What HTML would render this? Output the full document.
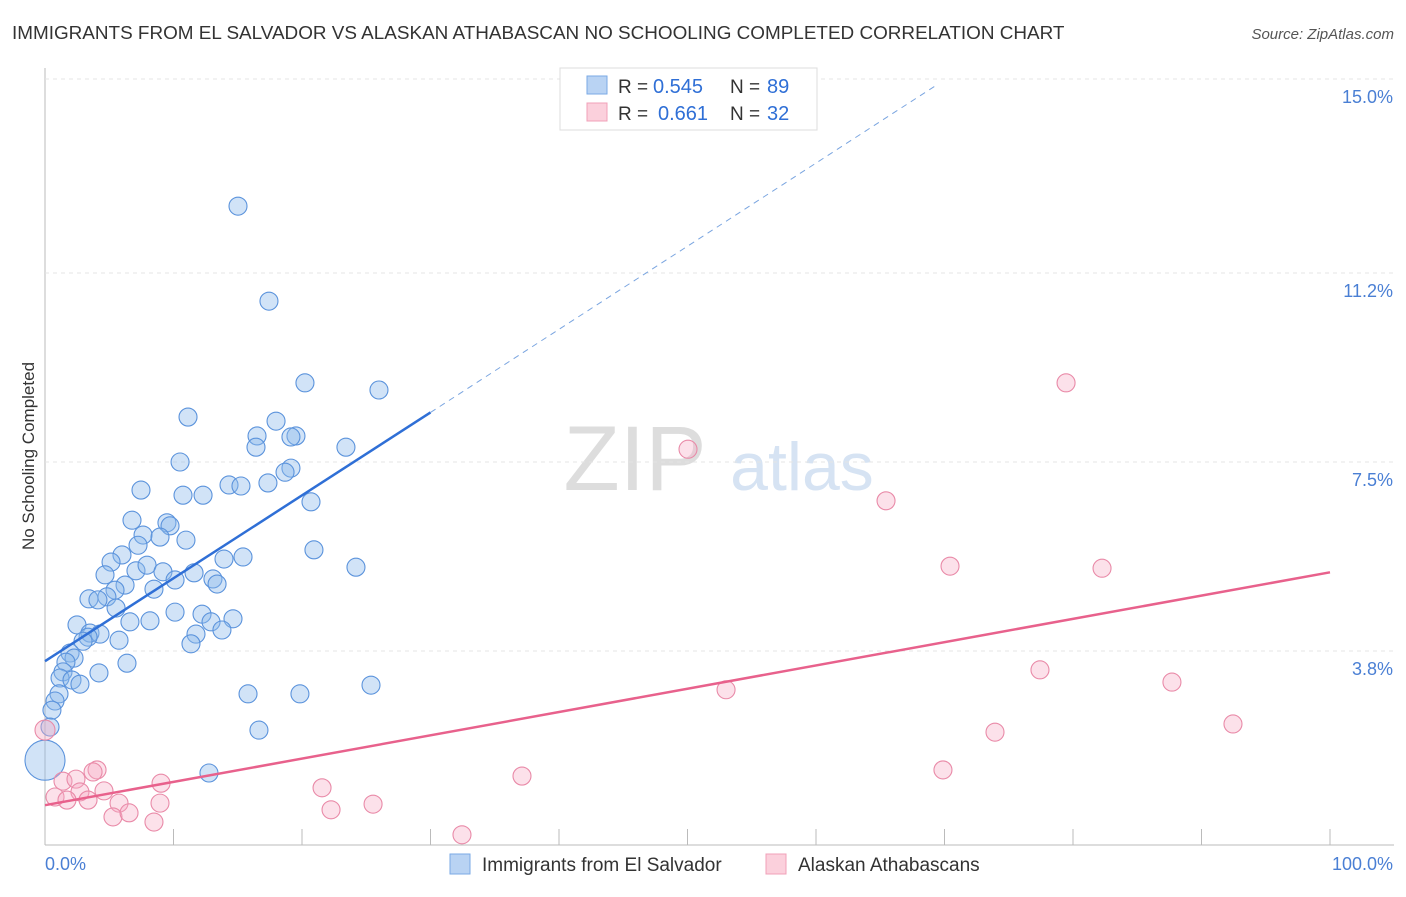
<!DOCTYPE html>
<html><head><meta charset="utf-8"><style>
body{margin:0;background:#fff;font-family:"Liberation Sans",sans-serif}
svg text{font-family:"Liberation Sans",sans-serif}
</style></head><body>
<svg id="chart" width="1406" height="892" xmlns="http://www.w3.org/2000/svg">
<text x="12" y="39" font-size="18.9" fill="#333">IMMIGRANTS FROM EL SALVADOR VS ALASKAN ATHABASCAN NO SCHOOLING COMPLETED CORRELATION CHART</text>
<text x="1394" y="39" font-size="15" fill="#555" text-anchor="end" font-style="italic">Source: ZipAtlas.com</text>
<text transform="translate(34,456) rotate(-90)" font-size="17" fill="#333" text-anchor="middle">No Schooling Completed</text>
<g><text x="635" y="490" font-size="92" fill="#ddd" text-anchor="middle" font-family="Liberation Serif">ZIP</text><text x="802" y="490" font-size="68" fill="#d6e3f3" text-anchor="middle">atlas</text></g>
<g id="grid"></g><g id="marks"></g>
<g>
<rect x="560" y="68" width="257" height="62" fill="#fff" stroke="#ddd"/>
<rect x="587" y="76" width="20" height="18" fill="#b9d3f3" stroke="#7aa9e6"/>
<text x="618" y="93" font-size="19" fill="#333">R =</text><text x="653" y="93" font-size="20" fill="#2f6fd6">0.545</text>
<text x="730" y="93" font-size="19" fill="#333">N =</text><text x="767" y="93" font-size="20" fill="#2f6fd6">89</text>
<rect x="587" y="103" width="20" height="18" fill="#fbd0dc" stroke="#f0a0b8"/>
<text x="618" y="120" font-size="19" fill="#333">R =</text><text x="658" y="120" font-size="20" fill="#2f6fd6">0.661</text>
<text x="730" y="120" font-size="19" fill="#333">N =</text><text x="767" y="120" font-size="20" fill="#2f6fd6">32</text>
</g>
<g>
<rect x="450" y="854" width="20" height="20" fill="#b9d3f3" stroke="#7aa9e6"/>
<text x="482" y="871" font-size="19" fill="#333">Immigrants from El Salvador</text>
<rect x="766" y="854" width="20" height="20" fill="#fbd0dc" stroke="#f0a0b8"/>
<text x="798" y="871" font-size="19" fill="#333">Alaskan Athabascans</text>
</g>
<text x="45" y="870" font-size="18" fill="#4a7fd4">0.0%</text>
<text x="1393" y="870" font-size="18" fill="#4a7fd4" text-anchor="end">100.0%</text>
</svg>
<script>
const yTicks=[15.0,11.2,7.5,3.8];
const yTickLabels=["15.0%","11.2%","7.5%","3.8%"];
const xTicks=[0,10,20,30,40,50,60,70,80,90,100];
const bluePx=[[238,206],[269,301],[305,383],[379,390],[188,417],[276,421],[257,436],[296,436],[291,437],[346,447],[256,447],[180,462],[291,468],[285,472],[141,490],[229,485],[241,486],[268,483],[183,495],[203,495],[311,502],[132,520],[167,523],[170,526],[143,535],[160,537],[186,540],[138,545],[122,555],[111,562],[224,559],[243,557],[314,550],[356,567],[105,575],[136,571],[147,565],[163,572],[194,573],[175,580],[213,579],[125,585],[217,584],[154,589],[115,590],[107,597],[89,599],[98,600],[116,608],[175,612],[202,614],[233,619],[150,621],[130,622],[211,622],[77,625],[222,630],[196,634],[90,633],[100,634],[88,637],[191,644],[119,640],[83,641],[70,653],[74,658],[66,662],[127,663],[63,672],[99,673],[60,678],[72,680],[80,684],[59,694],[248,694],[300,694],[371,685],[55,701],[52,710],[50,727],[259,730],[209,773]];
const pinkPx=[[688,449],[1066,383],[886,501],[950,566],[1102,568],[1040,670],[1172,682],[726,690],[995,732],[1233,724],[943,770],[522,776],[63,781],[76,779],[97,770],[93,772],[161,783],[322,788],[55,797],[80,792],[104,791],[67,800],[88,800],[160,803],[119,803],[373,804],[331,810],[113,817],[129,813],[154,822],[462,835]];
const blueX=bluePx.map(p=>+((p[0]-45)/12.85).toFixed(2));
const blueY=bluePx.map(p=>+((845-p[1])*3.75/191.5).toFixed(2));
const pinkX=pinkPx.map(p=>+((p[0]-45)/12.85).toFixed(2));
const pinkY=pinkPx.map(p=>+((845-p[1])*3.75/191.5).toFixed(2));
const blueTrend=[[0,3.6],[30,8.47],[69.5,14.9]];
const pinkTrend=[[0,0.78],[100,5.34]];
const X=v=>45+v*12.85, Y=v=>845-v*191.5/3.75;
const NS="http://www.w3.org/2000/svg";
function mk(t,a,parent){const e=document.createElementNS(NS,t);for(const k in a)e.setAttribute(k,a[k]);parent.appendChild(e);return e;}
const grid=document.getElementById('grid'),marks=document.getElementById('marks');
mk('line',{x1:45,y1:68,x2:45,y2:845,stroke:'#bbb'},grid);
mk('line',{x1:45,y1:845,x2:1394,y2:845,stroke:'#bbb'},grid);
yTicks.forEach((t,i)=>{
 const l=mk('line',{x1:45,y1:Y(t),x2:1394,y2:Y(t),stroke:'#e4e4e4','stroke-dasharray':'4,4'},grid);
 
 
 const tx=mk('text',{x:1393,y:Y(t)+24,'font-size':18,fill:'#4a7fd4','text-anchor':'end'},grid);
 tx.textContent=yTickLabels[i];
 
 
});
xTicks.forEach(t=>{
 const l=mk('line',{x1:X(t),y1:829,x2:X(t),y2:845,stroke:'#bbb'},grid);
 
 
});
blueX.forEach((x,i)=>{
 const c=mk('circle',{cx:X(x),cy:Y(blueY[i]),r:9,fill:'rgba(140,185,235,0.4)',stroke:'#5b93dc','stroke-width':1.1},marks);
 
 
});
const big=mk('circle',{cx:X(0),cy:Y(1.66),r:20,fill:'rgba(140,185,235,0.4)',stroke:'#5b93dc','stroke-width':1.1},marks);


const pk=mk('circle',{cx:X(0),cy:Y(2.25),r:10,fill:'rgba(245,170,195,0.4)',stroke:'#e98aa8','stroke-width':1.1},marks);


pinkX.forEach((x,i)=>{
 const c=mk('circle',{cx:X(x),cy:Y(pinkY[i]),r:9,fill:'rgba(245,170,195,0.35)',stroke:'#e98aa8','stroke-width':1.1},marks);
 
 
});
const bl=mk('line',{x1:X(blueTrend[0][0]),y1:Y(blueTrend[0][1]),x2:X(blueTrend[1][0]),y2:Y(blueTrend[1][1]),stroke:'#2f6fd6','stroke-width':2.5},marks);


const bd=mk('line',{x1:X(blueTrend[1][0]),y1:Y(blueTrend[1][1]),x2:X(blueTrend[2][0]),y2:Y(blueTrend[2][1]),stroke:'#7aa5e0','stroke-width':1,'stroke-dasharray':'6,5'},marks);


const pl=mk('line',{x1:X(pinkTrend[0][0]),y1:Y(pinkTrend[0][1]),x2:X(pinkTrend[1][0]),y2:Y(pinkTrend[1][1]),stroke:'#e8618c','stroke-width':2.5},marks);


</script>
</body></html>
